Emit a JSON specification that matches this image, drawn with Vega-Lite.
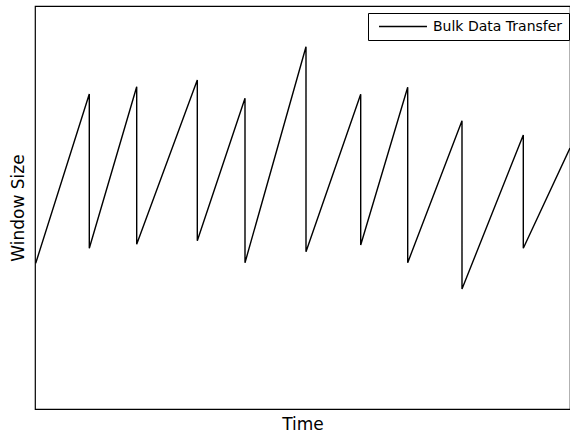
{
  "$schema": "https://vega.github.io/schema/vega-lite/v6.json",
  "width": 535,
  "height": 403,
  "autosize": {"type": "none"},
  "padding": {"left": 35, "top": 6, "right": 0, "bottom": 23},
  "background": "white",
  "config": {
    "view": {"stroke": "black", "strokeWidth": 1.2},
    "font": "DejaVu Sans"
  },
  "data": {
    "values": [
      {"i": 0, "t": 0.7, "w": 145.7, "s": "Bulk Data Transfer"},
      {"i": 1, "t": 54.3, "w": 315, "s": "Bulk Data Transfer"},
      {"i": 2, "t": 54.3, "w": 160.7, "s": "Bulk Data Transfer"},
      {"i": 3, "t": 101.7, "w": 322.3, "s": "Bulk Data Transfer"},
      {"i": 4, "t": 101.7, "w": 164.7, "s": "Bulk Data Transfer"},
      {"i": 5, "t": 162.3, "w": 329, "s": "Bulk Data Transfer"},
      {"i": 6, "t": 162.3, "w": 168.3, "s": "Bulk Data Transfer"},
      {"i": 7, "t": 210, "w": 310.7, "s": "Bulk Data Transfer"},
      {"i": 8, "t": 210, "w": 146.3, "s": "Bulk Data Transfer"},
      {"i": 9, "t": 271, "w": 362.3, "s": "Bulk Data Transfer"},
      {"i": 10, "t": 271, "w": 157.3, "s": "Bulk Data Transfer"},
      {"i": 11, "t": 325.7, "w": 314.7, "s": "Bulk Data Transfer"},
      {"i": 12, "t": 325.7, "w": 164, "s": "Bulk Data Transfer"},
      {"i": 13, "t": 372.7, "w": 321.7, "s": "Bulk Data Transfer"},
      {"i": 14, "t": 372.7, "w": 146.3, "s": "Bulk Data Transfer"},
      {"i": 15, "t": 427, "w": 288.3, "s": "Bulk Data Transfer"},
      {"i": 16, "t": 427, "w": 120, "s": "Bulk Data Transfer"},
      {"i": 17, "t": 488.3, "w": 274, "s": "Bulk Data Transfer"},
      {"i": 18, "t": 488.3, "w": 160.7, "s": "Bulk Data Transfer"},
      {"i": 19, "t": 535, "w": 261, "s": "Bulk Data Transfer"}
    ]
  },
  "mark": {"type": "line", "strokeWidth": 1.4, "clip": true},
  "encoding": {
    "x": {
      "field": "t", "type": "quantitative",
      "scale": {"domain": [0, 535], "nice": false, "zero": false},
      "axis": {"title": "Time", "labels": false, "ticks": false, "domain": false, "grid": false,
               "titleFontSize": 17, "titleFontWeight": "normal", "titleColor": "black", "titlePadding": 7, "titleFont": "DejaVu Sans"}
    },
    "y": {
      "field": "w", "type": "quantitative",
      "scale": {"domain": [0, 403], "nice": false, "zero": false},
      "axis": {"title": "Window Size", "labels": false, "ticks": false, "domain": false, "grid": false,
               "titleFontSize": 17, "titleFontWeight": "normal", "titleColor": "black", "titlePadding": 8, "titleFont": "DejaVu Sans"}
    },
    "order": {"field": "i", "type": "quantitative"},
    "color": {
      "field": "s", "type": "nominal",
      "scale": {"range": ["black"]},
      "legend": {
        "title": null, "orient": "none", "legendX": 333, "legendY": 7,
        "symbolType": "stroke", "symbolSize": 2300, "symbolStrokeWidth": 1.4,
        "symbolOffset": 4, "labelOffset": 5, "clipHeight": 15,
        "labelFontSize": 14, "labelFont": "DejaVu Sans", "labelColor": "black", "labelLimit": 300,
        "strokeColor": "black", "padding": 6, "fillColor": "white", "cornerRadius": 0
      }
    }
  }
}
